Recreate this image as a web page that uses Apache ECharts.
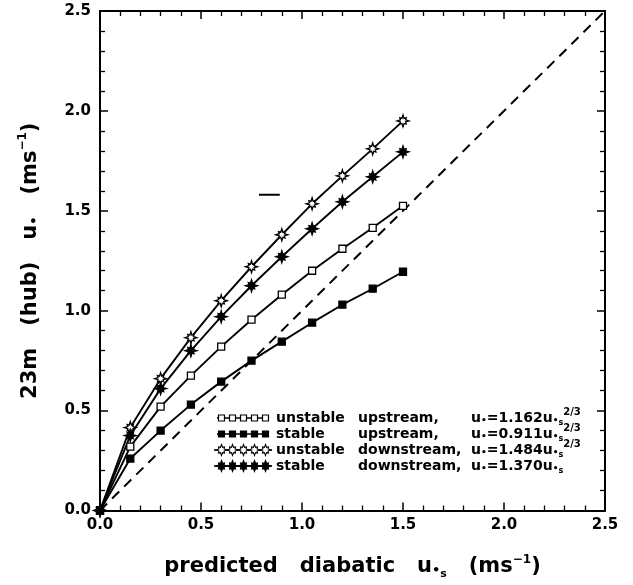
<!DOCTYPE html>
<html><head><meta charset="utf-8">
<script src="https://cdn.jsdelivr.net/npm/echarts@6/dist/echarts.min.js"></script>
<style>html,body{margin:0;padding:0;background:#fff}#c{width:633px;height:585px}</style>
</head><body><div id="c"></div>
<script>
// ---- data ----
const xValues            = [0, 0.15, 0.30, 0.45, 0.60, 0.75, 0.90, 1.05, 1.20, 1.35, 1.50];
const unstableUpstream   = [0, 0.32, 0.52, 0.675, 0.82, 0.955, 1.08, 1.20, 1.31, 1.415, 1.525];
const stableUpstream     = [0, 0.26, 0.40, 0.53, 0.645, 0.75, 0.845, 0.94, 1.03, 1.11, 1.195];
const unstableDownstream = [0, 0.415, 0.66, 0.865, 1.05, 1.22, 1.38, 1.535, 1.675, 1.81, 1.95];
const stableDownstream   = [0, 0.375, 0.61, 0.80, 0.97, 1.125, 1.27, 1.41, 1.545, 1.67, 1.795];
const oneToOneX = [0, 2.5];
const oneToOneY = [0, 2.5];
const strayMarkX = [0.787, 0.89];
const strayMarkY = [1.58, 1.58];
const tickLabels = ['0.0', '0.5', '1.0', '1.5', '2.0', '2.5'];
const legendCol1 = ['unstable', 'stable', 'unstable', 'stable'];
const legendCol2 = ['upstream,', 'upstream,', 'downstream,', 'downstream,'];
const legendCoef = ['1.162', '0.911', '1.484', '1.370'];
const legendExp  = ['2/3', '2/3', '2/3', ''];

const FONT = 'DejaVu Sans';
const pair = (xs, ys) => xs.map((x, i) => [x, ys[i]]);

// "sun" marker: long cardinal spikes, shorter diagonal spikes
function starPoints(cx, cy, R, Rd, r) {
  const pts = [];
  for (let i = 0; i < 16; i++) {
    const a = i * Math.PI / 8 - Math.PI / 2;
    const rr = i % 2 === 1 ? r : ((i / 2) % 2 === 0 ? R : Rd);
    pts.push([cx + rr * Math.cos(a), cy + rr * Math.sin(a)]);
  }
  return pts;
}
function starPath() {
  const p = starPoints(0, 0, 10, 7.5, 4.6);
  return 'path://' + p.map((q, i) => (i ? 'L' : 'M') + q[0].toFixed(2) + ',' + q[1].toFixed(2)).join('') + 'Z';
}
const STAR = starPath();

const lineStyle = { color: '#000', width: 1.9 };
function mkSeries(name, ys, symbol, size, fill) {
  return {
    name, type: 'line', data: pair(xValues, ys), symbol, symbolSize: size,
    lineStyle, itemStyle: { color: fill, borderColor: '#000', borderWidth: 1.3 },
    z: 3, animation: false
  };
}

const rich = {
  t: { fontFamily: FONT, fontWeight: 'bold', fontSize: 14, color: '#000' },
  d: { fontFamily: FONT, fontWeight: 'bold', fontSize: 9, color: '#000', padding: [6, 0, 0, 0] },
  s: { fontFamily: FONT, fontWeight: 'bold', fontSize: 8, color: '#000', padding: [10, 0, 0, 0] },
  p: { fontFamily: FONT, fontWeight: 'bold', fontSize: 10, color: '#000', padding: [0, 0, 11, 0] }
};

// legend drawn as graphic elements
const legendRowsY = [418, 434, 450, 466];
const legendMarkX = [221.5, 232.5, 243.5, 254.5, 265.5];
const legendKinds = [['sq', '#fff'], ['sq', '#000'], ['star', '#fff'], ['star', '#000']];
const graphics = [];
legendRowsY.forEach((y, r) => {
  const [kind, fill] = legendKinds[r];
  graphics.push({ type: 'line', shape: { x1: kind === 'star' ? 214 : 217, y1: y, x2: kind === 'star' ? 272 : 269, y2: y },
    style: { stroke: '#000', lineWidth: 1.6 }, z: 10 });
  legendMarkX.forEach(mx => {
    if (kind === 'sq') {
      graphics.push({ type: 'rect', shape: { x: mx - 3, y: y - 3, width: 6, height: 6 },
        style: { fill, stroke: '#000', lineWidth: 1.2 }, z: 11 });
    } else {
      graphics.push({ type: 'polygon', shape: { points: starPoints(mx, y, 5.5, 4.2, 2.8) },
        style: { fill, stroke: '#000', lineWidth: 1.1 }, z: 11 });
    }
  });
  graphics.push({ type: 'text', x: 276, y, style: { text: legendCol1[r], font: 'bold 14px ' + FONT, verticalAlign: 'middle', fill: '#000' }, z: 11 });
  graphics.push({ type: 'text', x: 358, y, style: { text: legendCol2[r], font: 'bold 14px ' + FONT, verticalAlign: 'middle', fill: '#000' }, z: 11 });
  let txt = '{t|u}{d|•}{t|=' + legendCoef[r] + 'u}{d|•}{s|s}' + (legendExp[r] ? '{p|' + legendExp[r] + '}' : '');
  graphics.push({ type: 'text', x: 471, y, style: { text: txt, rich, verticalAlign: 'middle', fill: '#000' }, z: 11 });
});

const axisCommon = {
  type: 'value', min: 0, max: 2.5, interval: 0.5,
  axisLine: { show: true, onZero: false, lineStyle: { color: '#000', width: 2 } },
  axisTick: { show: true, inside: true, length: 8, lineStyle: { color: '#000', width: 1.5 } },
  minorTick: { show: true, splitNumber: 5, length: 5, lineStyle: { color: '#000', width: 1.3 } },
  splitLine: { show: false }
};
const labelStyle = {
  fontFamily: FONT, fontWeight: 'bold', fontSize: 15, color: '#000',
  formatter: v => tickLabels[Math.round(v / 0.5)]
};

const option = {
  backgroundColor: '#fff',
  animation: false,
  grid: { left: 100, top: 11, width: 505, height: 500 },
  xAxis: [
    Object.assign({}, axisCommon, {
      position: 'bottom',
      axisLabel: Object.assign({ margin: 7 }, labelStyle),
      name: '{t|predicted   diabatic   u}{d|•}{s|s}{t|   (ms}{p|−1}{t|)}',
      nameLocation: 'middle', nameGap: 43,
      nameTextStyle: { rich: {
        t: { fontFamily: FONT, fontWeight: 'bold', fontSize: 21, color: '#000' },
        d: { fontFamily: FONT, fontWeight: 'bold', fontSize: 13, color: '#000', padding: [8, 0, 0, 0] },
        s: { fontFamily: FONT, fontWeight: 'bold', fontSize: 11, color: '#000', padding: [15, 0, 0, 0] },
        p: { fontFamily: FONT, fontWeight: 'bold', fontSize: 12, color: '#000', padding: [0, 0, 15, 0] }
      } }
    }),
    Object.assign({}, axisCommon, { position: 'top', axisLabel: { show: false } })
  ],
  yAxis: [
    Object.assign({}, axisCommon, {
      position: 'left',
      axisLabel: Object.assign({ margin: 9 }, labelStyle),
      name: '{t|23m   (hub)   u}{d|•}{t|   (ms}{p|−1}{t|)}',
      nameLocation: 'middle', nameGap: 56, nameRotate: 90,
      nameTextStyle: { rich: {
        t: { fontFamily: FONT, fontWeight: 'bold', fontSize: 21, color: '#000' },
        d: { fontFamily: FONT, fontWeight: 'bold', fontSize: 13, color: '#000', padding: [8, 0, 0, 0] },
        p: { fontFamily: FONT, fontWeight: 'bold', fontSize: 12, color: '#000', padding: [0, 0, 15, 0] }
      } }
    }),
    Object.assign({}, axisCommon, { position: 'right', axisLabel: { show: false } })
  ],
  series: [
    { name: '1:1', type: 'line', data: pair(oneToOneX, oneToOneY), symbol: 'none',
      lineStyle: { color: '#000', width: 2, type: [10, 7] }, z: 2, animation: false },
    { name: 'mark', type: 'line', data: pair(strayMarkX, strayMarkY), symbol: 'none',
      lineStyle: { color: '#000', width: 2 }, z: 2, animation: false },
    mkSeries('unstable upstream', unstableUpstream, 'rect', 7, '#fff'),
    mkSeries('stable upstream', stableUpstream, 'rect', 7, '#000'),
    mkSeries('unstable downstream', unstableDownstream, STAR, 12, '#fff'),
    mkSeries('stable downstream', stableDownstream, STAR, 12, '#000')
  ],
  graphic: graphics
};
const chart = echarts.init(document.getElementById('c'), null, { renderer: 'canvas' });
chart.setOption(option);
</script>
</body></html>
